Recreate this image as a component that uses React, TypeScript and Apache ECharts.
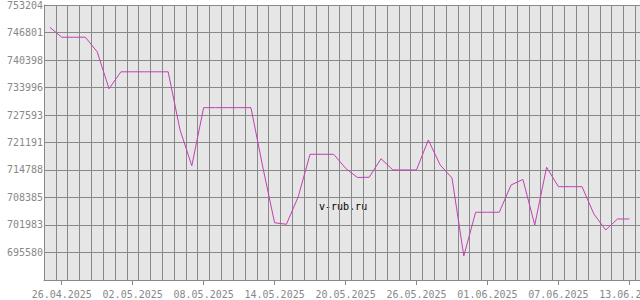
import React, { useEffect, useRef } from "react";
import * as echarts from "echarts";

const dates: string[] = [
  "25.04.2025", "26.04.2025", "27.04.2025", "28.04.2025", "29.04.2025", "30.04.2025",
  "01.05.2025", "02.05.2025", "03.05.2025", "04.05.2025", "05.05.2025", "06.05.2025",
  "07.05.2025", "08.05.2025", "09.05.2025", "10.05.2025", "11.05.2025", "12.05.2025",
  "13.05.2025", "14.05.2025", "15.05.2025", "16.05.2025", "17.05.2025", "18.05.2025",
  "19.05.2025", "20.05.2025", "21.05.2025", "22.05.2025", "23.05.2025", "24.05.2025",
  "25.05.2025", "26.05.2025", "27.05.2025", "28.05.2025", "29.05.2025", "30.05.2025",
  "31.05.2025", "01.06.2025", "02.06.2025", "03.06.2025", "04.06.2025", "05.06.2025",
  "06.06.2025", "07.06.2025", "08.06.2025", "09.06.2025", "10.06.2025", "11.06.2025",
  "12.06.2025", "13.06.2025", "14.06.2025",
];

const rates: (number | null)[] = [
  748000, 745700, 745700, 745700, 742300, 733700,
  737650, 737650, 737650, 737650, 737650, 724150,
  715780, 729300, 729300, 729300, 729300, 729300,
  715500, 702500, 702150, 708580, 718450, 718450,
  718450, 715190, 713050, 713100, 717420, 714800,
  714800, 714800, 721780, 715960, 712950, 694780,
  704950, 704950, 704950, 711300, 712580, 701990,
  715420, 710900, 710900, 710900, 704550, 700820,
  703390, 703390, null,
];

const yTicks: number[] = [
  695580, 701983, 708385, 714788, 721191, 727593, 733996, 740398, 746801, 753204,
];
const yMin = 689177.3;
const yMax = 753204;

const FONT = "DejaVu Sans Mono";
const GREY = "#888888";

export default function App() {
  const ref = useRef<HTMLDivElement>(null);
  useEffect(() => {
    document.body.style.margin = "0";
    const chart = echarts.init(ref.current!, null, { renderer: "svg" });
    chart.setOption({
      animation: false,
      backgroundColor: "#ffffff",
      grid: {
        left: 44,
        top: 5,
        right: -7.1,
        bottom: 20,
        show: true,
        backgroundColor: "#e6e6e6",
        borderWidth: 0,
        containLabel: false,
        outerBoundsMode: "none",
      },
      xAxis: {
        type: "category",
        data: dates,
        boundaryGap: true,
        axisLine: { lineStyle: { color: GREY, width: 1 } },
        axisTick: {
          show: true,
          alignWithLabel: true,
          length: 5,
          interval: (i: number) => (i - 1) % 6 === 0,
          lineStyle: { color: GREY },
        },
        axisLabel: {
          interval: (i: number) => (i - 1) % 6 === 0,
          fontFamily: FONT,
          fontSize: 10,
          color: GREY,
          margin: 9,
          hideOverlap: false,
        },
        splitLine: { show: true, interval: 0, lineStyle: { color: GREY, width: 1 } },
      },
      yAxis: {
        type: "value",
        min: yMin,
        max: yMax,
        axisLine: { show: true, lineStyle: { color: GREY } },
        axisTick: { show: false, customValues: yTicks },
        axisLabel: {
          customValues: yTicks,
          fontFamily: FONT,
          fontSize: 10,
          color: GREY,
          margin: 1,
          formatter: (v: number) => String(Math.round(v)),
        },
        splitLine: { show: true, lineStyle: { color: GREY, width: 1 } },
      },
      graphic: [
        {
          type: "text",
          left: 319,
          top: 201,
          style: { text: "v-rub.ru", fontFamily: FONT, fontSize: 10, fill: "#000000" },
        },
      ],
      series: [
        {
          type: "line",
          data: rates,
          showSymbol: false,
          symbol: "none",
          lineStyle: { color: "#c23fb4", width: 1 },
          itemStyle: { color: "#c23fb4" },
        },
      ],
    });
    return () => chart.dispose();
  }, []);
  return (
    <div
      ref={ref}
      style={{ position: "absolute", left: 0, top: 0, width: 640, height: 300, overflow: "hidden" }}
    />
  );
}
